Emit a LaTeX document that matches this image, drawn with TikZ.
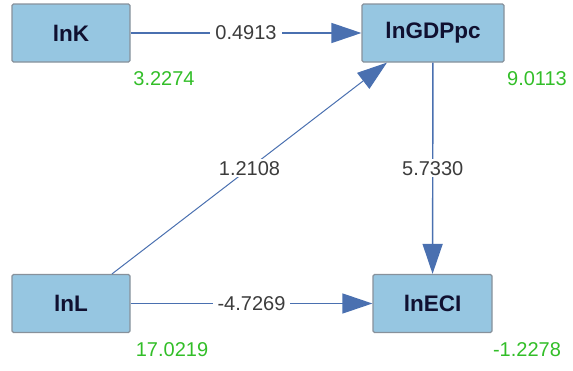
\documentclass[tikz,border=0pt]{standalone}
\usepackage{fontspec}
\setmainfont{Liberation Sans}
\usetikzlibrary{arrows.meta}
\definecolor{boxfill}{RGB}{150,198,225}
\definecolor{boxline}{RGB}{135,145,155}
\definecolor{pathline}{RGB}{74,112,176}
\definecolor{valgreen}{RGB}{50,190,40}
\definecolor{labgray}{RGB}{60,60,60}
\definecolor{labnavy}{RGB}{16,16,48}
\begin{document}
\begin{tikzpicture}[
    x=1pt, y=-1pt,
    var/.style={draw=boxline, line width=1.2pt, fill=boxfill, rounded corners=1.5pt,
      minimum height=58pt, text=labnavy, font=\fontsize{22.5}{24}\selectfont\bfseries},
    coef/.style={fill=white, text=labgray, inner xsep=5pt, inner ysep=2pt, font=\fontsize{20}{22}\selectfont},
    rsq/.style={text=valgreen, inner sep=0pt, font=\fontsize{20}{22}\selectfont},
    pathline/.style={draw=pathline, line width=1.4pt, -{Triangle[length=30pt,width=20pt]}}
    ]
  \useasboundingbox (0,0) rectangle (573,370);
	% variables
	\node [var, minimum width=118pt] (lnK) at (71,33) {lnK};
	\node [var, minimum width=142pt] (lnGDPpc) at (433,33) {lnGDPpc};
	\node [var, minimum width=118pt] (lnL) at (71,303.5) {lnL};
	\node [var, minimum width=119pt] (lnECI) at (432.5,303.5) {lnECI};
	% values below the boxes
	\node [rsq] (vK) at (164,78.5) {3.2274};
	\node [rsq] (vGDPpc) at (537,78.5) {9.0113};
	\node [rsq] (vL) at (172,350) {17.0219};
	\node [rsq] (vECI) at (527,350) {-1.2278};
	% paths
	\draw [pathline] (lnK) -- node [coef] {0.4913} (lnGDPpc);
	\draw [pathline] (lnL) -- node [coef] {-4.7269} (lnECI);
	\draw [pathline] (lnGDPpc) -- node [coef] {5.7330} (lnECI);
	\draw [pathline, line width=1pt] ([xshift=41pt]lnL.north) -- node [coef] {1.2108} ([xshift=-46pt]lnGDPpc.south);
  \end{tikzpicture}
\end{document}
